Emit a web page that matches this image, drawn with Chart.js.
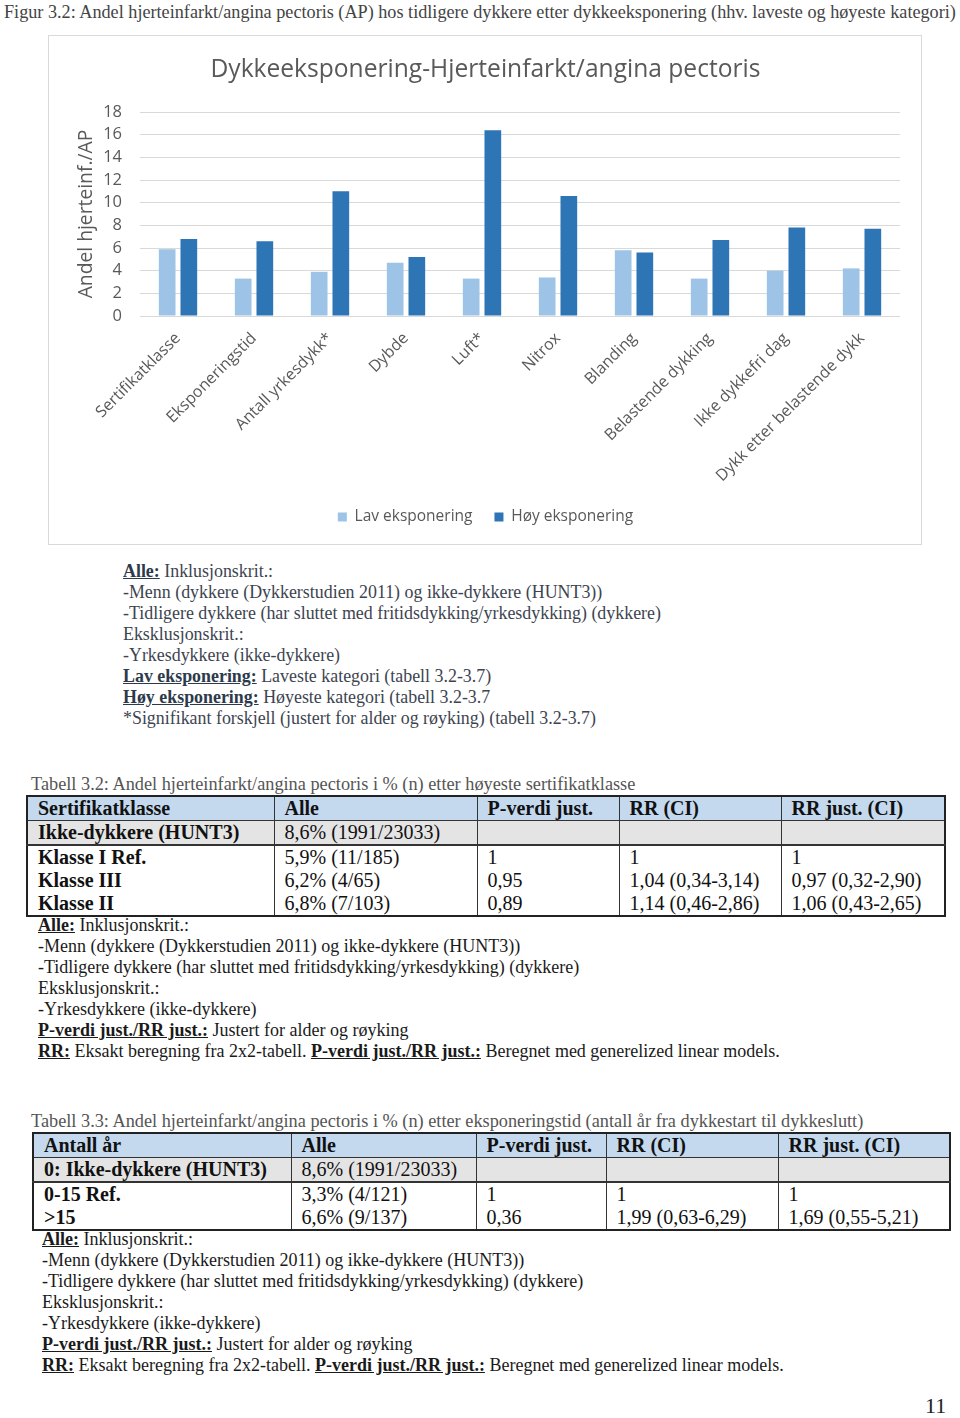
<!DOCTYPE html>
<html><head><meta charset="utf-8">
<script src="https://cdn.jsdelivr.net/npm/chart.js@4.4.1/dist/chart.umd.min.js"></script>
<style>
html,body{margin:0;padding:0;background:#fff;}
body{width:960px;height:1418px;position:relative;overflow:hidden;font-family:"Liberation Serif","Times New Roman",serif;}
.abs{position:absolute;white-space:nowrap;}
#cap{left:4px;top:1px;font-size:18.2px;line-height:22px;color:#444;}
#chartbox{position:absolute;left:48px;top:35px;width:872px;height:508px;border:1px solid #d9d9d9;overflow:hidden;}
.notes{font-size:17.9px;line-height:21px;}
.notes b{text-decoration:underline;}
#n1{left:123px;top:561px;color:#3d4450;}
#n1 b{color:#2c3a4c;}
.tn{font-size:18px;color:#1a1a1a;}
.tcap{font-size:18.3px;line-height:22px;color:#555;}
table{position:absolute;border-collapse:collapse;table-layout:fixed;font-size:20px;color:#111;}
table td{padding:0 0 0 10px;line-height:23px;height:23px;border-left:1px solid #333;border-right:1px solid #333;white-space:nowrap;overflow:hidden;}
table{border:2px solid #222;}
tr.h td{background:#c5d9ee;font-weight:bold;border-bottom:1px solid #333;}
tr.g td{background:#e4e4e4;border-bottom:2px solid #333;}
tr.g td:first-child{font-weight:bold;}
tr.b td:first-child{font-weight:bold;}
#pn{left:925px;top:1394px;font-size:22px;line-height:24px;color:#222;}
</style></head>
<body>
<div id="cap" class="abs">Figur 3.2: Andel hjerteinfarkt/angina pectoris (AP) hos tidligere dykkere etter dykkeeksponering (hhv. laveste og høyeste kategori)</div>
<div id="chartbox"><canvas id="c" width="872" height="508"></canvas></div>
<div id="n1" class="abs notes">
<b>Alle:</b> Inklusjonskrit.:<br>
-Menn (dykkere (Dykkerstudien 2011) og ikke-dykkere (HUNT3))<br>
-Tidligere dykkere (har sluttet med fritidsdykking/yrkesdykking) (dykkere)<br>
Eksklusjonskrit.:<br>
-Yrkesdykkere (ikke-dykkere)<br>
<b>Lav eksponering:</b> Laveste kategori (tabell 3.2-3.7)<br>
<b>Høy eksponering:</b> Høyeste kategori (tabell 3.2-3.7<br>
*Signifikant forskjell (justert for alder og røyking) (tabell 3.2-3.7)
</div>

<div class="abs tcap" style="left:31px;top:773px;">Tabell 3.2: Andel hjerteinfarkt/angina pectoris i % (n) etter høyeste sertifikatklasse</div>
<table style="left:26px;top:795px;width:918px;">
<colgroup><col style="width:247px"><col style="width:203px"><col style="width:142px"><col style="width:162px"><col style="width:164px"></colgroup>
<tr class="h"><td>Sertifikatklasse</td><td>Alle</td><td>P-verdi just.</td><td>RR (CI)</td><td>RR just. (CI)</td></tr>
<tr class="g"><td>Ikke-dykkere (HUNT3)</td><td>8,6% (1991/23033)</td><td></td><td></td><td></td></tr>
<tr class="b"><td>Klasse I Ref.</td><td>5,9% (11/185)</td><td>1</td><td>1</td><td>1</td></tr>
<tr class="b"><td>Klasse III</td><td>6,2% (4/65)</td><td>0,95</td><td>1,04 (0,34-3,14)</td><td>0,97 (0,32-2,90)</td></tr>
<tr class="b"><td>Klasse II</td><td>6,8% (7/103)</td><td>0,89</td><td>1,14 (0,46-2,86)</td><td>1,06 (0,43-2,65)</td></tr>
</table>
<div class="abs notes tn" style="left:38px;top:915px;">
<b>Alle:</b> Inklusjonskrit.:<br>
-Menn (dykkere (Dykkerstudien 2011) og ikke-dykkere (HUNT3))<br>
-Tidligere dykkere (har sluttet med fritidsdykking/yrkesdykking) (dykkere)<br>
Eksklusjonskrit.:<br>
-Yrkesdykkere (ikke-dykkere)<br>
<b>P-verdi just./RR just.:</b> Justert for alder og røyking<br>
<b>RR:</b> Eksakt beregning fra 2x2-tabell. <b>P-verdi just./RR just.:</b> Beregnet med generelized linear models.
</div>

<div class="abs tcap" style="left:31px;top:1110px;">Tabell 3.3: Andel hjerteinfarkt/angina pectoris i % (n) etter eksponeringstid (antall år fra dykkestart til dykkeslutt)</div>
<table style="left:32px;top:1132px;width:917px;">
<colgroup><col style="width:258px"><col style="width:185px"><col style="width:130px"><col style="width:172px"><col style="width:172px"></colgroup>
<tr class="h"><td>Antall år</td><td>Alle</td><td>P-verdi just.</td><td>RR (CI)</td><td>RR just. (CI)</td></tr>
<tr class="g"><td>0: Ikke-dykkere (HUNT3)</td><td>8,6% (1991/23033)</td><td></td><td></td><td></td></tr>
<tr class="b"><td>0-15 Ref.</td><td>3,3% (4/121)</td><td>1</td><td>1</td><td>1</td></tr>
<tr class="b"><td>&gt;15</td><td>6,6% (9/137)</td><td>0,36</td><td>1,99 (0,63-6,29)</td><td>1,69 (0,55-5,21)</td></tr>
</table>
<div class="abs notes tn" style="left:42px;top:1229px;">
<b>Alle:</b> Inklusjonskrit.:<br>
-Menn (dykkere (Dykkerstudien 2011) og ikke-dykkere (HUNT3))<br>
-Tidligere dykkere (har sluttet med fritidsdykking/yrkesdykking) (dykkere)<br>
Eksklusjonskrit.:<br>
-Yrkesdykkere (ikke-dykkere)<br>
<b>P-verdi just./RR just.:</b> Justert for alder og røyking<br>
<b>RR:</b> Eksakt beregning fra 2x2-tabell. <b>P-verdi just./RR just.:</b> Beregnet med generelized linear models.
</div>
<div id="pn" class="abs">11</div>

<script>
const categories = ["Sertifikatklasse","Eksponeringstid","Antall yrkesdykk*","Dybde","Luft*","Nitrox","Blanding","Belastende dykking","Ikke dykkefri dag","Dykk etter belastende dykk"];
const lavEksponering = [5.9, 3.3, 3.9, 4.7, 3.3, 3.4, 5.8, 3.3, 4.0, 4.2];
const hoyEksponering = [6.8, 6.6, 11.0, 5.2, 16.4, 10.6, 5.6, 6.7, 7.8, 7.7];
const seriesNames = ["Lav eksponering","Høy eksponering"];
const yTicks = [0,2,4,6,8,10,12,14,16,18];
const chartTitle = "Dykkeeksponering-Hjerteinfarkt/angina pectoris";
const yTitle = "Andel hjerteinf./AP";

const txt = '#595959';
const ff = "'Open Sans', 'Noto Sans', sans-serif";
new Chart(document.getElementById('c'), {
  type: 'bar',
  data: {
    labels: categories,
    datasets: [
      {label: seriesNames[0], data: lavEksponering, backgroundColor: '#9dc3e6', categoryPercentage: 0.57, barPercentage: 0.77},
      {label: seriesNames[1], data: hoyEksponering, backgroundColor: '#2e75b6', categoryPercentage: 0.57, barPercentage: 0.77}
    ]
  },
  options: {
    responsive: false,
    animation: false,
    layout: {padding: {left: 22, right: 21, top: 0, bottom: 9.25}},
    plugins: {
      title: {display: true, text: chartTitle, color: txt, font: {family: ff, size: 24.6, weight: 'normal'}, padding: {top: 19, bottom: 27.5}},
      legend: {position: 'bottom', labels: {color: txt, font: {family: ff, size: 15.5}, boxWidth: 9, boxHeight: 9, padding: 22}},
      tooltip: {enabled: false}
    },
    scales: {
      x: {
        grid: {display: false, drawTicks: false},
        border: {display: false},
        ticks: {color: txt, font: {family: ff, size: 16}, minRotation: 45, maxRotation: 45, padding: 13, autoSkip: false},
        afterFit: s => { s.height = 171.25; }
      },
      y: {
        min: 0, max: 18,
        afterBuildTicks: s => { s.ticks = yTicks.map(v => ({value: v})); },
        grid: {color: '#d9d9d9', lineWidth: 1, drawTicks: false},
        border: {display: false},
        ticks: {color: txt, font: {family: ff, size: 16.5}, padding: 18, autoSkip: false},
        title: {display: true, text: yTitle, color: txt, font: {family: ff, size: 19.3}, padding: {top: 4, bottom: 4}},
        afterFit: s => { s.width = 69; }
      }
    }
  }
});
</script>
</body></html>
